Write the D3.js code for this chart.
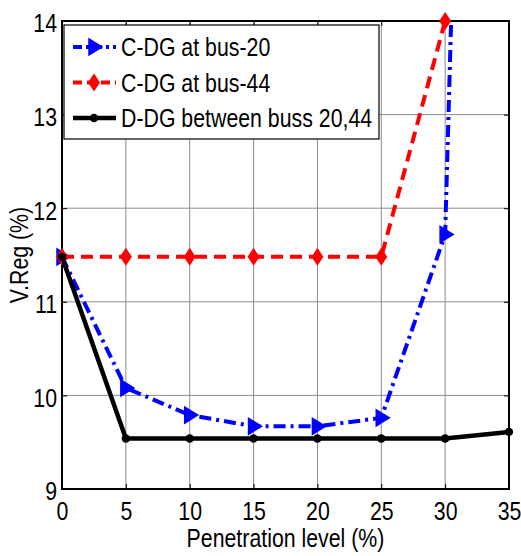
<!DOCTYPE html>
<html>
<head>
<meta charset="utf-8">
<script src="https://cdn.jsdelivr.net/npm/d3@7"></script>
<style>
  body { margin: 0; background: #fff; }
  svg text { font-family: "Liberation Sans", Arial, sans-serif; fill: #000; }
</style>
</head>
<body>
<div id="chart"></div>
<script>
// Data
const penetration = [0, 5, 10, 15, 20, 25, 30, 35];
const busTwenty   = [11.48, 10.08, 9.79, 9.67, 9.67, 9.76, 11.72, 36];
const busFortyFour = [11.48, 11.48, 11.48, 11.48, 11.48, 11.48, 14.0];
const distributed = [11.48, 9.54, 9.54, 9.54, 9.54, 9.54, 9.54, 9.61];
const xTicks = [0, 5, 10, 15, 20, 25, 30, 35];
const yTicks = [9, 10, 11, 12, 13, 14];
const legendLabels = ["C-DG at bus-20", "C-DG at bus-44", "D-DG between buss 20,44"];

const width = 521, height = 556;
const margin = {top: 21, right: 12, bottom: 67, left: 62};
const innerW = width - margin.left - margin.right;
const innerH = height - margin.top - margin.bottom;
const squeeze = 0.82; // narrow face, like the MATLAB export
const fontSize = 26;

const x = d3.scaleLinear().domain([0, 35]).range([0, innerW]);
const y = d3.scaleLinear().domain([9, 14]).range([innerH, 0]);

const svg = d3.select("#chart").append("svg")
    .attr("width", width)
    .attr("height", height);

svg.append("defs").append("clipPath").attr("id", "plot-clip")
  .append("rect").attr("width", innerW).attr("height", innerH);

const g = svg.append("g").attr("transform", `translate(${margin.left},${margin.top})`);

// grid
g.append("g").selectAll("line").data(xTicks.slice(1, -1)).join("line")
    .attr("x1", d => x(d)).attr("x2", d => x(d))
    .attr("y1", 0).attr("y2", innerH)
    .attr("stroke", "#8c8c8c").attr("stroke-width", 1);
g.append("g").selectAll("line").data(yTicks.slice(1, -1)).join("line")
    .attr("x1", 0).attr("x2", innerW)
    .attr("y1", d => y(d)).attr("y2", d => y(d))
    .attr("stroke", "#8c8c8c").attr("stroke-width", 1);

// axes (ticks inward, labels outside)
const xAxis = d3.axisBottom(x).tickValues(xTicks).tickSize(-5).tickFormat(d3.format("d"));
const yAxis = d3.axisLeft(y).tickValues(yTicks).tickSize(-5).tickFormat(d3.format("d"));

g.append("g").attr("transform", `translate(0,${innerH})`).call(xAxis)
  .call(a => a.select(".domain").remove())
  .call(a => a.selectAll("text")
      .attr("font-size", fontSize).attr("y", 12).attr("dy", "0.72em")
      .attr("transform", `scale(${squeeze},1)`));
g.append("g").call(yAxis)
  .call(a => a.select(".domain").remove())
  .call(a => a.selectAll("text")
      .attr("font-size", fontSize).attr("x", -5 / squeeze).attr("dy", "0.42em")
      .attr("transform", `scale(${squeeze},1)`));
g.append("g")
  .call(d3.axisTop(x).tickValues(xTicks).tickSize(-5).tickFormat(""))
  .call(a => a.select(".domain").remove());
g.append("g").attr("transform", `translate(${innerW},0)`)
  .call(d3.axisRight(y).tickValues(yTicks).tickSize(-5).tickFormat(""))
  .call(a => a.select(".domain").remove());

g.append("rect").attr("width", innerW).attr("height", innerH)
  .attr("fill", "none").attr("stroke", "#000").attr("stroke-width", 2);

// series
const series = [
  {vals: busTwenty,    color: "#0000ff", dash: "12,5,3,5", width: 4,   marker: "tri"},
  {vals: busFortyFour, color: "#ff0000", dash: "12,7",     width: 4,   marker: "dia"},
  {vals: distributed,  color: "#000000", dash: null,       width: 4.5, marker: "dot"}
];

const line = d3.line().x(d => x(d[0])).y(d => y(d[1]));

function drawMarker(sel, type, color) {
  if (type === "tri") {
    sel.append("path").attr("d", "M-5,-8L8,0L-5,8Z")
      .attr("fill", color).attr("stroke", color).attr("stroke-width", 1.5);
  } else if (type === "dia") {
    sel.append("path").attr("d", "M0,-9L6,0L0,9L-6,0Z").attr("fill", color);
  } else {
    sel.append("circle").attr("r", 4.2).attr("fill", color);
  }
}

series.forEach(s => {
  const pts = s.vals.map((v, i) => [penetration[i], v]);
  g.append("path").datum(pts)
    .attr("clip-path", "url(#plot-clip)")
    .attr("d", line)
    .attr("fill", "none")
    .attr("stroke", s.color)
    .attr("stroke-width", s.width)
    .attr("stroke-dasharray", s.dash);
  g.append("g").selectAll("g").data(pts.filter(p => p[1] <= 14)).join("g")
    .attr("transform", p => `translate(${x(p[0])},${y(p[1])})`)
    .each(function () { drawMarker(d3.select(this), s.marker, s.color); });
});

// legend
const lg = svg.append("g").attr("transform", "translate(64,25)");
lg.append("rect").attr("width", 315).attr("height", 114)
  .attr("fill", "#fff").attr("stroke", "#000").attr("stroke-width", 1.2);
series.forEach((s, i) => {
  const row = lg.append("g").attr("transform", `translate(0,${22 + i * 35.5})`);
  row.append("line").attr("x1", 9).attr("x2", 52).attr("y1", 0).attr("y2", 0)
    .attr("stroke", s.color).attr("stroke-width", s.width)
    .attr("stroke-dasharray", s.dash ? (s.marker === "tri" ? "9,4,3,4" : "9,5") : null);
  const m = row.append("g").attr("transform", "translate(30,0)");
  drawMarker(m, s.marker, s.color);
  row.append("text").attr("transform", `translate(57,0) scale(${squeeze},1)`)
    .attr("dy", "0.36em").attr("font-size", fontSize).text(legendLabels[i]);
});

// axis titles
svg.append("text")
  .attr("transform", `translate(${margin.left + innerW / 2},547) scale(${squeeze},1)`)
  .attr("text-anchor", "middle").attr("font-size", fontSize)
  .text("Penetration level (%)");
svg.append("text")
  .attr("transform", `translate(28,${margin.top + innerH / 2}) rotate(-90) scale(${squeeze},1)`)
  .attr("text-anchor", "middle").attr("font-size", fontSize)
  .text("V.Reg (%)");
</script>
</body>
</html>
